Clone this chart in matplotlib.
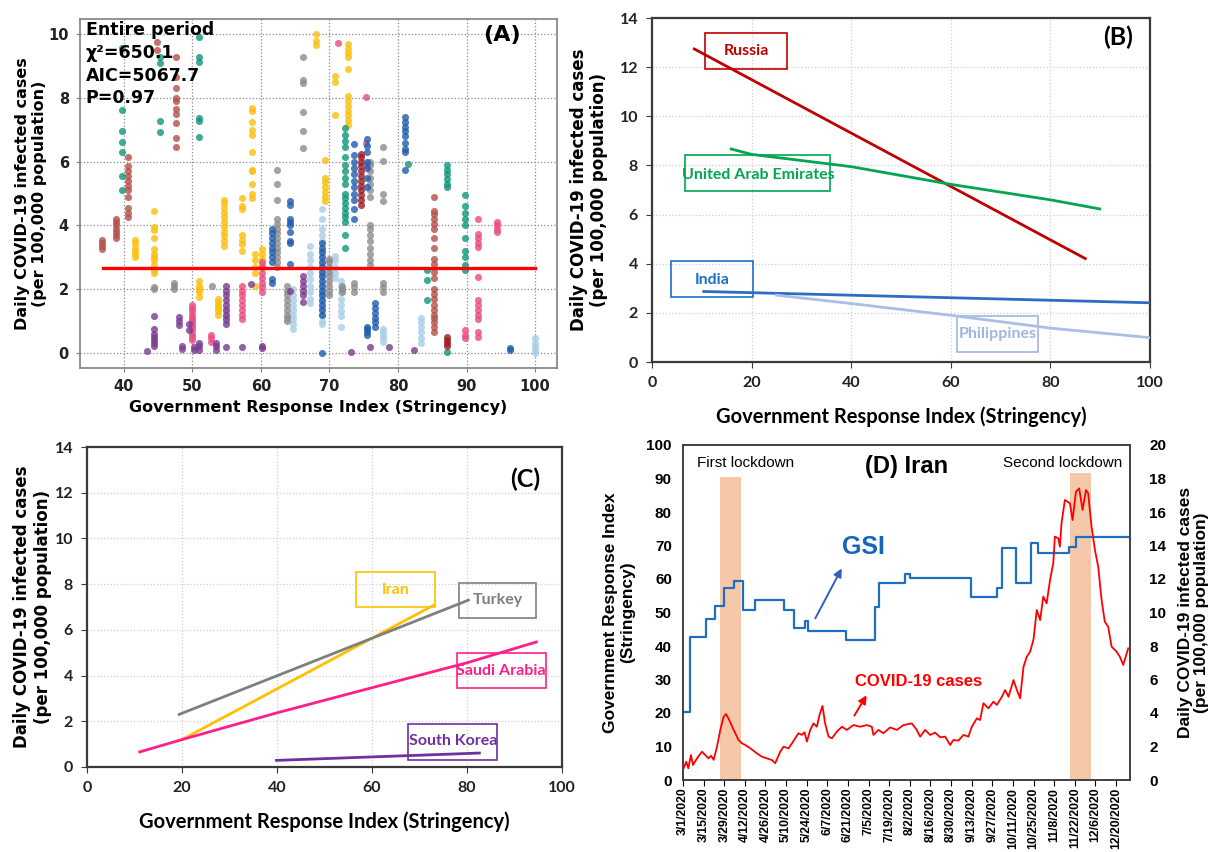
import datetime as dt
import matplotlib
matplotlib.use('Agg')
import matplotlib.pyplot as plt
from matplotlib import font_manager
from matplotlib.patches import Rectangle

# ---------------- panel A: per-country stacks (stringency, [daily cases]) ----------------
lightblue_pts = [(54.9, [1.0, 1.15, 1.3, 1.4]),
                 (64.7, [0.75, 0.9, 1.05, 1.2, 1.35, 1.5, 1.65, 1.8, 2.0]),
                 (67.1, [1.55, 1.7, 1.9, 2.1, 2.3, 2.5, 2.7, 2.9, 3.1, 3.35]),
                 (68.9, [0.9, 1.0, 1.2, 1.4, 1.6, 1.8, 2.0, 2.2, 2.4, 2.6, 2.8, 3.0, 3.2, 3.5, 3.7, 3.9, 4.2, 4.5]),
                 (70.8, [2.35, 2.5, 2.7, 2.9, 3.05]),
                 (71.7, [0.8, 1.15, 1.3, 1.5, 1.7, 1.9, 2.1, 2.25]),
                 (77.8, [0.35, 0.45, 0.55, 0.65, 0.75]),
                 (83.4, [0.3, 0.45, 0.65, 0.8, 0.95, 1.1]),
                 (100.0, [0.0, 0.1, 0.2, 0.3, 0.45])]
gray_pts = [(44.4, [2.0, 2.05]),
            (47.3, [2.0, 2.1, 2.2]),
            (52.8, [2.1]),
            (62.4, [2.7, 2.85, 3.0, 3.15, 3.3, 3.45, 3.6, 3.75, 3.9, 4.05, 4.2, 4.8, 5.3, 5.73]),
            (63.8, [1.0, 1.1, 1.2, 1.35, 1.5, 1.65, 1.8, 1.95, 2.1]),
            (66.2, [6.44, 6.96, 7.57, 8.46, 8.56, 9.3]),
            (70.0, [1.8, 1.95, 2.1, 2.25, 2.4, 2.55, 2.7, 2.85, 2.95]),
            (71.8, [1.9, 2.0, 2.1]),
            (73.6, [1.9, 2.05, 2.2]),
            (75.9, [2.75, 2.9, 3.1, 3.3, 3.5, 3.7, 3.9, 4.0, 4.9, 5.1, 5.3, 5.5, 5.7, 5.9, 6.0]),
            (77.8, [1.9, 2.05, 2.2, 4.76, 5.0, 6.03, 6.47])]
gold_pts = [(41.6, [3.0, 3.1, 3.2, 3.3, 3.45, 3.55]),
            (44.4, [2.5, 2.6, 2.75, 2.9, 3.0, 3.1, 3.25, 3.6, 3.85, 3.95, 4.45]),
            (51.0, [1.75, 1.9, 2.0, 2.1, 2.25]),
            (53.7, [1.2, 1.3, 1.4, 1.5, 1.6, 1.7]),
            (54.6, [3.35, 3.5, 3.65, 3.8, 3.95, 4.1, 4.25, 4.4, 4.55, 4.7, 4.8]),
            (57.3, [3.2, 3.4, 3.55, 3.7, 4.5, 4.6, 4.85]),
            (58.7, [4.87, 5.0, 5.3, 5.7, 5.75, 6.3, 6.85, 7.0, 7.25, 7.6, 7.7]),
            (59.1, [2.1, 2.5, 2.7, 2.9, 3.1]),
            (60.1, [2.65, 2.8, 2.95, 3.1, 3.25]),
            (68.0, [9.65, 9.8, 10.0]),
            (69.4, [4.75, 4.9, 5.05, 5.2, 5.35, 5.5, 6.05]),
            (70.8, [7.46, 8.51, 8.7]),
            (72.7, [7.15, 7.3, 7.45, 7.6, 7.75, 7.9, 8.05, 8.9, 9.3, 9.4, 9.55, 9.7])]
teal_pts = [(39.7, [5.1, 5.56, 6.31, 6.62, 6.96, 7.62, 9.56]),
            (45.3, [6.92, 7.27, 9.1, 9.3]),
            (51.0, [6.78, 7.27, 7.36, 9.14, 9.3, 9.9]),
            (72.2, [3.3, 3.7, 4.1, 4.25, 4.4, 4.55, 4.7, 4.85, 5.0, 5.3, 5.5, 5.7, 5.9, 6.15, 6.45, 6.65, 6.85, 7.05]),
            (81.4, [5.94]),
            (84.2, [1.65, 2.27, 2.59]),
            (87.1, [0.02, 5.2, 5.3, 5.45, 5.6, 5.75, 5.9]),
            (89.8, [2.6, 2.75, 3.0, 3.2, 3.6, 4.0, 4.2, 4.4, 4.6, 4.95])]
brown_pts = [(36.8, [3.25, 3.35, 3.45, 3.55]),
             (38.8, [3.6, 3.7, 3.8, 3.9, 4.0, 4.1, 4.2]),
             (40.6, [4.25, 4.4, 4.55, 4.9, 5.1, 5.25, 5.4, 5.55, 5.7, 5.85, 6.15]),
             (44.9, [9.5, 9.77]),
             (47.6, [6.45, 6.75, 7.2, 7.5, 7.65, 7.9, 8.0, 8.3, 8.65, 9.3]),
             (85.2, [0.65, 0.8, 0.95, 1.1, 1.2, 1.35, 1.5, 1.7, 1.85, 2.0, 2.35, 2.55, 2.8, 2.95,
                     3.3, 3.6, 3.9, 4.05, 4.2, 4.35, 4.45, 4.9])]
darkred_pts = [(74.6, [4.65, 4.8, 4.95, 5.1, 5.25, 5.4, 5.55, 5.7, 5.85, 6.0, 6.15, 6.25]),
               (87.1, [0.2, 0.3, 0.4, 0.5])]
pink_pts = [(50.0, [0.4, 0.5, 0.6, 0.7, 0.8, 0.9, 1.0, 1.1, 1.2, 1.3, 1.4, 1.5]),
            (52.7, [0.35, 0.45, 0.55]),
            (57.3, [1.05, 1.2, 1.35, 1.5, 1.65, 1.8, 1.95, 2.1]),
            (60.1, [1.9, 2.05, 2.2, 2.35, 2.5, 2.7, 2.85]),
            (71.2, [9.72]),
            (75.4, [5.9, 6.6, 8.04]),
            (89.8, [0.45, 0.55, 0.7]),
            (91.7, [0.49, 0.65, 1.07, 1.2, 1.35, 1.5, 1.65, 2.38, 3.32, 3.45, 3.6, 3.74, 4.21]),
            (94.5, [3.8, 3.9, 4.0, 4.1])]
purple_pts = [(43.4, [0.04]),
              (44.4, [0.2, 0.3, 0.4, 0.5, 0.6, 0.75, 1.14]),
              (48.1, [0.86, 1.0, 1.12]),
              (48.5, [0.12, 0.2]),
              (49.5, [0.7, 0.9]),
              (50.3, [0.1, 0.18]),
              (51.0, [0.1, 0.2, 0.3]),
              (53.4, [0.1, 0.2, 0.3]),
              (54.9, [0.18, 0.9, 1.05, 1.2, 1.35, 1.5, 1.65, 1.8, 1.95, 2.1]),
              (57.3, [0.18]),
              (58.6, [2.17]),
              (60.1, [0.15, 0.22]),
              (64.2, [1.93]),
              (66.2, [1.6, 1.8, 1.95, 2.1, 2.25, 2.4]),
              (73.1, [0.02]),
              (75.9, [0.18]),
              (78.7, [0.18]),
              (82.4, [0.07])]
darkblue_pts = [(61.6, [2.2, 2.3, 2.85, 3.0, 3.15, 3.3, 3.45, 3.6, 3.75, 3.9]),
                (64.3, [2.8, 3.45, 3.5, 3.8, 4.0, 4.1, 4.2, 4.65, 4.75]),
                (68.9, [0.0, 1.2, 1.35, 1.5, 1.65, 1.8, 1.95, 2.1, 2.25, 2.4, 2.55, 2.7, 2.85, 3.0, 3.15, 3.3, 3.45]),
                (73.6, [4.2, 4.5, 4.8, 5.0, 5.2, 5.4, 5.6, 5.8, 6.0, 6.2, 6.55]),
                (75.5, [0.55, 0.65, 0.75, 0.8, 5.2, 5.5, 5.8, 6.0, 6.3, 6.5, 6.7]),
                (76.6, [0.8, 0.95, 1.1, 1.25, 1.4, 1.55]),
                (81.0, [5.75, 6.3, 6.4, 6.6, 6.8, 6.95, 7.1, 7.25, 7.4]),
                (96.4, [0.1, 0.15])]
fit_x = [37, 100]
fit_y = [2.65, 2.65]

# ---------------- panel B: fitted lines (decreasing) ----------------
russia_x, russia_y = [8.5, 87.0], [12.74, 4.21]
uae_x, uae_y = [15.9, 20, 40, 60, 80, 89.9], [8.67, 8.45, 7.95, 7.23, 6.6, 6.23]
india_x, india_y = [10.4, 100], [2.87, 2.41]
phil_x, phil_y = [25, 40, 60, 80, 100], [2.72, 2.38, 1.9, 1.38, 0.99]

# ---------------- panel C: fitted lines (increasing) ----------------
iran_x, iran_y = [20, 73.0], [1.2, 7.08]
turkey_x, turkey_y = [19.4, 80.3], [2.3, 7.3]
saudi_x, saudi_y = [11.1, 20, 40, 60, 80, 94.6], [0.66, 1.2, 2.37, 3.47, 4.56, 5.47]
korea_x, korea_y = [39.9, 82.6], [0.29, 0.61]

# ---------------- panel D: Iran time series (days after 3/1/2020) ----------------
gsi_day = [0, 4.5, 15.8, 21.5, 27.6, 34.8, 40.4, 48.6, 68.7, 75.5, 83, 85, 110.6, 130.5, 133.4,
           150.8, 154.2, 195.6, 213.4, 216.4, 225.9, 236.1, 241, 262, 266.8, 303.5]
gsi_val = [20.4, 42.8, 48.1, 51.9, 57.3, 59.3, 50.8, 53.6, 50.8, 45.4, 47.4, 44.5, 41.7, 51.7, 58.8,
           61.4, 60.3, 54.7, 57.2, 69.2, 58.8, 70.7, 67.9, 69.6, 72.6, 72.6]
case_day = [0.4, 2.2, 3.6, 5.4, 6.8, 9.5, 12.9, 15.1, 17.4, 19.0, 20.8, 23.1, 25.3, 27.6, 29.2, 31.4,
            34.4, 37.7, 40.0, 42.3, 45.7, 50.2, 53.6, 57.0, 60.4, 62.6, 66.0, 68.3, 71.6, 74.0, 76.2,
            78.4, 80.7, 82.5, 84.1, 86.4, 88.6, 90.9, 92.7, 94.7, 96.5, 98.8, 101.1, 104.5, 107.9,
            111.2, 115.8, 120.3, 124.8, 128.2, 129.3, 132.7, 136.1, 140.6, 145.2, 149.7, 155.4, 158.7,
            161.0, 164.4, 167.8, 171.2, 174.6, 178.0, 181.4, 183.6, 187.0, 190.4, 193.8, 196.1, 199.5,
            201.7, 204.0, 207.4, 210.8, 213.1, 216.5, 218.7, 221.0, 224.4, 226.7, 228.9, 231.2, 233.4,
            235.7, 238.0, 240.2, 242.5, 244.6, 246.9, 249.2, 251.4, 252.5, 254.8, 255.9, 257.0, 259.3,
            262.7, 264.5, 266.8, 269.0, 271.3, 273.6, 275.1, 277.4, 279.7, 281.9, 284.2, 286.4, 288.7,
            291.0, 294.4, 296.6, 298.9, 302.3]
case_val = [0.70, 1.09, 0.70, 1.49, 0.90, 1.29, 1.69, 1.49, 1.29, 1.45, 1.20, 1.99, 2.99, 3.78, 3.94, 3.58,
            2.99, 2.39, 2.19, 2.09, 1.89, 1.59, 1.39, 1.29, 1.19, 1.00, 1.69, 1.99, 1.89, 2.19, 2.49,
            2.79, 2.69, 2.85, 2.29, 2.99, 3.38, 3.18, 3.88, 4.42, 3.38, 2.59, 2.49, 2.89, 3.18,
            2.99, 3.28, 3.18, 3.28, 3.18, 2.69, 2.99, 2.79, 3.14, 2.99, 3.28, 3.38, 2.99,
            2.59, 2.99, 2.69, 2.83, 2.55, 2.59, 2.09, 2.39, 2.35, 2.69, 2.59, 3.18, 3.68,
            3.58, 4.58, 4.28, 4.68, 4.48, 4.97, 5.37, 4.97, 5.97, 5.37, 4.88, 6.76, 7.36,
            7.66, 8.40, 10.15, 9.55, 10.95, 10.55, 11.94, 12.94, 14.53, 14.43, 13.93, 15.32, 16.72,
            16.52, 15.52, 17.21, 17.41, 16.12, 17.31, 17.11, 15.12, 13.73, 12.74, 10.75, 9.45, 9.15,
            7.96, 7.66, 7.36, 6.87, 7.86]
lockdown_days = [(25.3, 39.6), (262.9, 277.1)]
lockdown_top = [90.3, 91.5]

start = dt.datetime(2020, 3, 1)


def to_dates(days):
    return [start + dt.timedelta(days=d) for d in days]


names = {f.name for f in font_manager.fontManager.ttflist}
narrow = next((n for n in ['Liberation Sans Narrow', 'Lato', 'Roboto'] if n in names), 'DejaVu Sans')
arial = 'Liberation Sans'

fig = plt.figure(figsize=(12.08, 8.52), dpi=100)

# ======== (A) ========
axA = fig.add_axes([80 / 1208, 1 - 368 / 852, 477 / 1208, 349 / 852])
series = [('#a9cfe8', lightblue_pts), ('#8c8c8c', gray_pts), ('#fbbf0a', gold_pts),
          ('#10967a', teal_pts), ('#b4504a', brown_pts), ('#9c1d22', darkred_pts),
          ('#ea4b80', pink_pts), ('#7b3a8f', purple_pts), ('#1f5cae', darkblue_pts)]
for color, stacks in series:
    xs = [x for x, ys in stacks for _ in ys]
    ys = [y for _, yl in stacks for y in yl]
    axA.scatter(xs, ys, s=26, color=color, alpha=0.8, linewidths=0, zorder=3)
axA.plot(fit_x, fit_y, color='#ff0000', lw=2.4, zorder=4)
axA.set_xlim(33.6, 103.2)
axA.set_ylim(-0.48, 10.48)
axA.set_xticks(range(40, 101, 10))
axA.set_yticks(range(0, 11, 2))
axA.grid(True, ls=':', color='#8a8a8a', lw=0.9)
axA.set_axisbelow(True)
for sp in axA.spines.values():
    sp.set_color('#808080')
    sp.set_linewidth(1.2)
axA.tick_params(labelsize=10.5, colors='#222222', length=3, color='#808080', pad=5)
for lab in axA.get_xticklabels() + axA.get_yticklabels():
    lab.set_fontweight('bold')
axA.set_xlabel('Government Response Index (Stringency)', fontsize=11.5, fontweight='bold', labelpad=4)
axA.set_ylabel('Daily COVID-19 infected cases\n(per 100,000 population)', fontsize=11.5,
               fontweight='bold', labelpad=1, linespacing=1.15)
axA.text(0.012, 0.995, 'Entire period\nχ²=650.1\nAIC=5067.7\nP=0.97', transform=axA.transAxes,
         ha='left', va='top', fontsize=12.5, fontweight='bold', linespacing=1.35, zorder=5)
axA.text(0.925, 0.955, '(A)', transform=axA.transAxes, ha='right', va='center',
         fontsize=16, fontweight='bold')


def style_fit_axes(ax, ypad):
    ax.set_xlim(0, 100)
    ax.set_ylim(0, 14)
    ax.set_xticks(range(0, 101, 20))
    ax.set_yticks(range(0, 15, 2))
    ax.grid(True, ls=':', color='#cfcfcf', lw=0.9)
    ax.set_axisbelow(True)
    for sp in ax.spines.values():
        sp.set_color('#3a3a3a')
        sp.set_linewidth(1.6)
    ax.tick_params(labelsize=11.5, colors='#222222', length=4, color='#3a3a3a', pad=6)
    for lab in ax.get_xticklabels() + ax.get_yticklabels():
        lab.set_family(narrow)
        lab.set_fontweight('bold')
    ax.set_xlabel('Government Response Index (Stringency)', fontsize=14.5, family=narrow,
                  fontweight='bold', labelpad=12)
    ax.set_ylabel('Daily COVID-19 infected cases\n(per 100,000 population)', fontsize=12,
                  fontweight='bold', labelpad=ypad, linespacing=1.2)


def boxed_label(ax, box, text, color):
    x0, x1, y0, y1, tx, ty = box
    ax.add_patch(Rectangle((x0, y0), x1 - x0, y1 - y0, fill=False, ec=color, lw=1.2, zorder=3))
    ax.text(tx, ty, text, color=color, ha='center', va='center', fontsize=11.5,
            fontweight='bold', family=narrow, zorder=4)


# ======== (B) ========
axB = fig.add_axes([652 / 1208, 1 - 362 / 852, 498 / 1208, 344 / 852])
style_fit_axes(axB, 8)
axB.plot(russia_x, russia_y, color='#c00000', lw=2.0, zorder=5)
axB.plot(uae_x, uae_y, color='#00a651', lw=2.0, zorder=5)
axB.plot(india_x, india_y, color='#2e6bc4', lw=2.0, zorder=5)
axB.plot(phil_x, phil_y, color='#a9bfe6', lw=2.0, zorder=5)
boxed_label(axB, (10.7, 27.1, 11.92, 13.39, 18.9, 12.65), 'Russia', '#c00000')
boxed_label(axB, (6.7, 35.8, 6.97, 8.43, 21.3, 7.6), 'United Arab Emirates', '#00a651')
boxed_label(axB, (3.8, 20.2, 2.65, 4.1, 12.0, 3.35), 'India', '#1f6fc5')
boxed_label(axB, (61.2, 77.5, 0.41, 1.86, 69.4, 1.15), 'Philippines', '#9fb6e0')
axB.text(0.965, 0.945, '(B)', transform=axB.transAxes, ha='right', va='center',
         fontsize=18, fontweight='bold', family=narrow)

# ======== (C) ========
axC = fig.add_axes([87 / 1208, 1 - 767 / 852, 475 / 1208, 320 / 852])
style_fit_axes(axC, 2)
axC.plot(iran_x, iran_y, color='#ffc000', lw=2.0, zorder=5)
axC.plot(turkey_x, turkey_y, color='#7f7f7f', lw=2.0, zorder=5)
axC.plot(saudi_x, saudi_y, color='#ff1f8a', lw=2.0, zorder=5)
axC.plot(korea_x, korea_y, color='#7030a0', lw=2.0, zorder=5)
boxed_label(axC, (56.7, 73.2, 6.98, 8.54, 65.0, 7.76), 'Iran', '#ffc000')
boxed_label(axC, (78.3, 94.6, 6.54, 8.07, 86.5, 7.3), 'Turkey', '#7f7f7f')
boxed_label(axC, (77.9, 96.6, 3.47, 5.0, 87.2, 4.2), 'Saudi Arabia', '#ff1f8a')
boxed_label(axC, (67.6, 86.4, 0.29, 1.86, 77.0, 1.12), 'South Korea', '#7030a0')
axC.text(0.955, 0.9, '(C)', transform=axC.transAxes, ha='right', va='center',
         fontsize=18, fontweight='bold', family=narrow)

# ======== (D) ========
axD = fig.add_axes([683 / 1208, 1 - 780 / 852, 447 / 1208, 335 / 852])
axR = axD.twinx()
for (d0, d1), top in zip(lockdown_days, lockdown_top):
    axD.fill_between(to_dates([d0, d1]), 0, top, color='#f6c8aa', lw=0, zorder=1)
axD.plot(to_dates(gsi_day), gsi_val, color='#1f6fc0', lw=1.6, drawstyle='steps-post', zorder=3)
axR.plot(to_dates(case_day), case_val, color='#ff0000', lw=1.3, zorder=3)
axD.set_xlim(start, start + dt.timedelta(days=303.5))
axD.set_ylim(0, 100)
axR.set_ylim(0, 20)
axD.set_yticks(range(0, 101, 10))
axR.set_yticks(range(0, 21, 2))
ticks = [start + dt.timedelta(days=14 * k) for k in range(22)]
axD.set_xticks(ticks)
axD.set_xticklabels([f'{t.month}/{t.day}/{t.year}' for t in ticks], rotation=90)
for a in (axD, axR):
    for sp in a.spines.values():
        sp.set_color('#404040')
        sp.set_linewidth(1.2)
axD.tick_params(axis='y', labelsize=11, length=0, pad=8)
axR.tick_params(axis='y', labelsize=11, length=0, pad=14)
axD.tick_params(axis='x', labelsize=8.8, length=4, pad=1.5)
for lab in axD.get_xticklabels() + axD.get_yticklabels() + axR.get_yticklabels():
    lab.set_family(arial)
    lab.set_fontweight('bold')
axD.set_ylabel('Government Response Index\n(Stringency)', fontsize=12.5, family=arial,
               fontweight='bold', labelpad=8, linespacing=1.2)
axR.set_ylabel('Daily COVID-19 infected cases\n(per 100,000 population)', fontsize=12.5,
               family=arial, fontweight='bold', labelpad=8, linespacing=1.1)
axD.text(0.14, 0.946, 'First lockdown', transform=axD.transAxes, ha='center', va='center',
         fontsize=11, family=arial)
axD.text(0.85, 0.946, 'Second lockdown', transform=axD.transAxes, ha='center', va='center',
         fontsize=11, family=arial)
axD.text(0.5, 0.937, '(D) Iran', transform=axD.transAxes, ha='center', va='center',
         fontsize=17, family=arial, fontweight='bold')
axD.text(0.403, 0.696, 'GSI', transform=axD.transAxes, ha='center', va='center',
         fontsize=18, family=arial, fontweight='bold', color='#1565c0')
axD.annotate('', xy=(0.358, 0.639), xytext=(0.293, 0.475), xycoords='axes fraction',
             arrowprops=dict(arrowstyle='-|>', color='#2f5fc0', lw=1.4, mutation_scale=12))
axD.text(0.528, 0.293, 'COVID-19 cases', transform=axD.transAxes, ha='center', va='center',
         fontsize=12, family=arial, fontweight='bold', color='#ff0000')
axD.annotate('', xy=(0.414, 0.26), xytext=(0.38, 0.185), xycoords='axes fraction',
             arrowprops=dict(arrowstyle='-|>', color='#ff0000', lw=1.4, mutation_scale=12))

fig.savefig('out.png', dpi=100)
